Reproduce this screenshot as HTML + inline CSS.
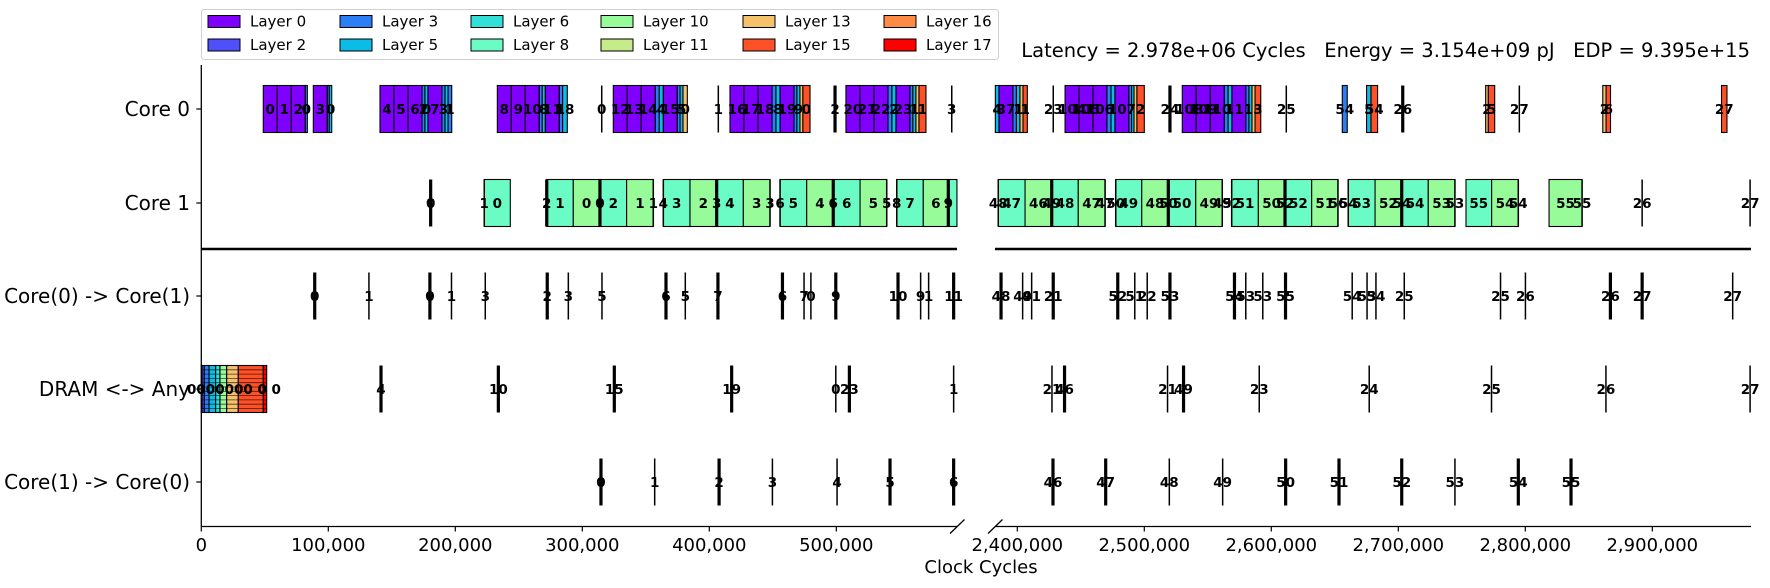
<!DOCTYPE html>
<html><head><meta charset="utf-8"><style>
html,body{margin:0;padding:0;background:#fff;}
svg{display:block;font-family:"DejaVu Sans","Liberation Sans",sans-serif;}
</style></head><body>
<svg id="chart" width="1770" height="588" viewBox="0 0 1770 588"></svg>
<script>
// ---- data (cycles in thousands) ----
const rowNames = ["Core 0","Core 1","Core(0) -> Core(1)","DRAM <-> Any","Core(1) -> Core(0)"];
const layerIds = [0,2,3,5,6,8,10,11,13,15,16,17];
const layerColors = {0:"#8000ff",2:"#4f4ffc",3:"#2c7ef7",5:"#0bbde6",6:"#33e0d8",8:"#6bfcc5",10:"#98fb9a",11:"#c5eb8a",13:"#f5c26b",15:"#ff5127",16:"#ff8a46",17:"#ff0000"};
const leftTicks = [0,100,200,300,400,500];
const rightTicks = [2400,2500,2600,2700,2800,2900];
const core0Tasks = [
[48.8,59.8,0,'0'],[59.8,70.9,0,'1'],[70.9,81.9,0,'2'],[81.9,83.5,3,'0'],
[88.2,99.2,0,'3'],[99.2,100.8,3,''],[100.8,102.7,5,'0'],
[140.7,151.7,0,'4'],[151.7,162.8,0,'5'],[162.8,173.8,0,'6'],[173.8,176.1,3,'2'],[176.1,178.5,5,'0'],[178.5,189.5,0,'7'],[189.5,191.9,3,'3'],[191.9,194.3,5,''],[194.3,197.2,3,'1'],
[233.1,244.1,0,'8'],[244.1,255.1,0,'9'],[255.1,266.1,0,'10'],[266.1,268.5,3,''],[268.5,270.9,5,'8'],[270.9,281.9,0,'11'],[281.9,284.5,3,''],[284.5,288.2,5,'18'],
[324.4,335.4,0,'12'],[335.4,346.4,0,'13'],[346.4,357.5,0,'14'],[357.5,360.6,3,''],[360.6,363.8,5,'4'],[363.8,374.8,0,'15'],[374.8,377,3,''],[377,379.3,5,'5'],[379.3,382.7,13,'0'],
[416.3,427.3,0,'16'],[427.3,438.4,0,'17'],[438.4,449.4,0,'18'],[449.4,452.5,3,''],[452.5,455.7,5,'8'],[455.7,466.7,0,'19'],[466.7,469,3,''],[469,471.4,5,'9'],[471.4,473.7,13,''],[473.7,479.3,15,'0'],
[507.6,518.6,0,'20'],[518.6,529.7,0,'21'],[529.7,540.7,0,'22'],[540.7,543.8,3,''],[543.8,547,5,'2'],[547,558,0,'23'],[558,560.3,3,''],[560.3,562.7,5,'1'],[562.7,565.1,13,''],[565.1,570.6,15,'1'],
[2382.7,2385.6,5,'4'],[2385.6,2396.6,0,'37'],[2396.6,2399.3,3,''],[2399.3,2402.1,5,'1'],[2402.1,2404.5,13,''],[2404.5,2407.9,15,'1'],
[2437.6,2448.6,0,'104'],[2448.6,2459.6,0,'105'],[2459.6,2470.6,0,'106'],[2470.6,2473.8,3,''],[2473.8,2476.9,5,''],[2476.9,2487.9,0,'107'],[2487.9,2490,3,''],[2490,2491.9,5,''],[2491.9,2494.2,13,''],[2494.2,2500,15,'2'],
[2529.9,2540.9,0,'108'],[2540.9,2552,0,'109'],[2552,2563,0,'110'],[2563,2566,3,''],[2566,2569,5,''],[2569,2580,0,'111'],[2580,2582.4,3,''],[2582.4,2584.8,5,''],[2584.8,2587.2,13,''],[2587.2,2591.7,15,'3'],
[2655.9,2659.8,3,'54'],[2675,2678.5,5,'5'],[2678.5,2683.7,15,'54'],[2768.8,2770.9,13,'2'],[2770.9,2775.9,15,'5'],[2861,2863.6,13,'2'],[2863.6,2867.1,15,'6'],[2954.5,2958.8,15,'27']
];
const core0Events = [[315.3,'0',0],[407.1,'1',0],[499,'2',1],[590.9,'3',0],[2428.3,'23',0],[2520.2,'24',1],[2611.8,'25',0],[2703.5,'26',1],[2795.3,'27',0]];
const core1Tasks = [
[222.8,243.3,8,'0'],[272,292.9,8,'1'],[292.9,313.9,10,'0'],[313.9,334.9,8,'2'],[334.9,355.9,10,'1'],[363.8,384.8,8,'3'],[384.8,405.8,10,'2'],[405.8,426.8,8,'4'],[426.8,447.8,10,'3'],[455.7,476.7,8,'5'],[476.7,497.6,10,'4'],[497.6,518.7,8,'6'],[518.7,539.7,10,'5'],[547.6,568.5,8,'7'],[568.5,588.2,10,'6'],[588.2,595,8,''],
[2385,2406.1,8,'47'],[2406.1,2427.1,10,'46'],[2427.1,2448,8,'48'],[2448,2469.1,10,'47'],[2477.5,2498,8,'49'],[2498,2518.9,10,'48'],[2518.9,2540.5,8,'50'],[2540.5,2561.4,10,'49'],[2568.8,2589.8,8,'51'],[2589.8,2610.8,10,'50'],[2610.8,2631.8,8,'52'],[2631.8,2652.5,10,'51'],[2660.6,2681.7,8,'53'],[2681.7,2702.7,10,'52'],[2702.7,2723.6,8,'54'],[2723.6,2744.6,10,'53'],[2753.3,2773.5,8,'55'],[2773.5,2794.5,10,'54'],[2818.7,2844.7,10,'55']
];
const core1Events = [[180.6,'0',1],[222.8,'1',0],[272,'2',1],[313.9,'0',1],[355.9,'1',0],[363.8,'4',0],[405.8,'3',1],[447.8,'3',0],[455.7,'6',0],[497.6,'6',1],[539.7,'5',0],[547.6,'8',0],[588.2,'9',1],[2385,'48',0],[2427.1,'49',1],[2469.1,'47',0],[2477.5,'50',0],[2518.9,'50',1],[2561.4,'49',0],[2568.8,'52',0],[2610.8,'52',1],[2652.5,'56',0],[2660.6,'54',0],[2702.7,'54',1],[2744.6,'53',0],[2794.5,'54',0],[2844.7,'55',0],[2892,'26',0],[2977,'27',0]];
const c01Events = [[89.3,'0',1],[132,'1',0],[180,'0',1],[197,'1',0],[223.6,'3',0],[272.4,'2',1],[289,'3',0],[315.5,'5',0],[365.9,'6',1],[381.1,'5',0],[406.8,'7',1],[457.6,'6',1],[474.6,'7',0],[480,'0',0],[499.6,'9',1],[548.6,'10',1],[566.4,'9',0],[572.7,'1',0],[592.4,'11',1],
[2387.2,'48',1],[2404.2,'49',0],[2411.3,'41',0],[2428.3,'21',1],[2479.1,'52',1],[2492.5,'51',0],[2502.3,'22',0],[2520.2,'53',1],[2571,'54',1],[2579.9,'53',0],[2593.3,'53',0],[2611.2,'55',1],[2663.7,'54',0],[2675.4,'53',0],[2682.4,'54',0],[2704.7,'25',0],[2780.5,'25',0],[2800.1,'26',0],[2867,'26',1],[2892,'27',1],[2963.3,'27',0]];
const dramTasks = [[0,0.6,0,''],[0.6,2.4,2,''],[2.4,6.1,3,''],[6.1,11.3,5,''],[11.3,14.7,6,''],[14.7,20,10,''],[20,29.1,13,''],[29.1,48.8,15,''],[48.8,51.5,17,'']];
const dramEvents = [[141.5,'4',1],[233.9,'10',1],[325.2,'15',1],[417.6,'19',1],[499.6,'0',0],[510.3,'23',1],[592.4,'1',0],[2427.3,'21',0],[2437.2,'46',1],[2518.3,'21',0],[2530.9,'49',1],[2590.5,'23',0],[2677.1,'24',0],[2773.4,'25',0],[2863.5,'26',0],[2977,'27',0]];
const c10Events = [[314.7,'0',1],[357,'1',0],[407.7,'2',1],[449.7,'3',0],[500.6,'4',0],[542.3,'5',1],[592.4,'6',1],[2428.1,'46',1],[2469.6,'47',1],[2519.7,'48',0],[2561.7,'49',0],[2611.3,'50',1],[2653.3,'51',1],[2702.7,'52',1],[2744.6,'53',0],[2794.5,'54',1],[2836,'55',1]];

// ---- scales ----
const L0=201.3, LEND=957, R0=995, REND=1751, PX=1.27, RSTART=2400, RPX=1017.3;
function xs(c){ return c<=600 ? L0 + c*PX : Math.min(REND, RPX + (c-RSTART)*PX); }
const rowY = [109,203,296,389,482];
const HH = 23.5;
const NS="http://www.w3.org/2000/svg";
const svg=document.getElementById('chart');
function el(tag,attrs,parent){const e=document.createElementNS(NS,tag);for(const k in attrs)e.setAttribute(k,attrs[k]);(parent||svg).appendChild(e);return e;}
function txt(s,attrs,parent){const t=el('text',attrs,parent);t.textContent=s;return t;}

// legend
const lg=el('g',{});


el('rect',{x:201.5,y:9.5,width:797,height:50,rx:3,fill:'#fff',stroke:'#d0d0d0','stroke-width':1},lg);
const colX=[250,382,513,643,785,926];
layerIds.forEach((id,i)=>{
  const c=Math.floor(i/2), r=i%2;
  const cy = r===0?21.5:45;
  const g=el('g',{},lg);
  
  
  el('rect',{x:colX[c]-42,y:cy-6,width:32,height:12,fill:layerColors[id],stroke:'#000','stroke-width':1},g);
  txt('Layer '+id,{x:colX[c],y:cy+5,'font-size':15,fill:'#000'},g);
});

// title
const tt=txt('Latency = 2.978e+06 Cycles   Energy = 3.154e+09 pJ   EDP = 9.395e+15',{x:1750,y:57,'text-anchor':'end','font-size':19.5,fill:'#000',style:'white-space:pre'});



// axes
const ax=el('g',{stroke:'#000','stroke-width':1.3,fill:'none'});


el('line',{x1:L0,y1:65,x2:L0,y2:526.5},ax);
el('line',{x1:L0,y1:526.5,x2:LEND,y2:526.5},ax);
el('line',{x1:R0,y1:526.5,x2:REND,y2:526.5},ax);
el('line',{x1:950,y1:533.5,x2:964.5,y2:519.5},ax);
el('line',{x1:988,y1:533.5,x2:1002.5,y2:519.5},ax);
// separator
const sep=el('g',{stroke:'#000','stroke-width':2.6});


el('line',{x1:L0,y1:249,x2:LEND,y2:249},sep);
el('line',{x1:R0,y1:249,x2:REND,y2:249},sep);

// y ticks & labels
rowNames.forEach((n,i)=>{
  el('line',{x1:L0-5,y1:rowY[i],x2:L0,y2:rowY[i],stroke:'#000','stroke-width':1.2});
  const t=txt(n,{x:190,y:rowY[i]+7,'text-anchor':'end','font-size':20,fill:'#000'});
  
  
});
// x ticks
function fmt(k){return (k*1000).toLocaleString('en-US');}
leftTicks.concat(rightTicks).forEach(k=>{
  const x=xs(k);
  el('line',{x1:x,y1:526.5,x2:x,y2:531.5,stroke:'#000','stroke-width':1.2});
  const t=txt(fmt(k),{x:x,y:551,'text-anchor':'middle','font-size':18,fill:'#000'});
  
  
});
const xt=txt('Clock Cycles',{x:981,y:573,'text-anchor':'middle','font-size':18,fill:'#000'});



const marks=el('g',{});
const labels=el('g',{'font-size':13.5,'font-weight':'bold','text-anchor':'middle',fill:'#000'});
function drawTasks(tasks,row,hatch){
  const cy=rowY[row];
  tasks.forEach(t=>{
    const x1=xs(t[0]), x2=xs(t[1]);
    const r=el('rect',{x:x1,y:cy-HH,width:Math.max(0.8,x2-x1),height:2*HH,fill:layerColors[t[2]],stroke:'#000','stroke-width':1.1},marks);
    
    
    if(t[3]!==''){txt(t[3],{x:(x1+x2)/2,y:cy+5},labels);}
  });
  if(hatch){
    const x1=xs(tasks[0][0]), x2=xs(tasks[tasks.length-1][1]);
    for(let y=cy-HH+4.3;y<cy+HH;y+=4.3){el('line',{x1:x1,y1:y,x2:x2,y2:y,stroke:'#000','stroke-width':0.8,opacity:0.7},marks);}
    txt('0000000 0 0',{x:(x1+x2)/2,y:cy+5},labels);
  }
}
function drawEvents(evs,row){
  const cy=rowY[row];
  evs.forEach(e=>{
    const x=xs(e[0]);
    const l=el('line',{x1:x,y1:cy-HH,x2:x,y2:cy+HH,stroke:'#000','stroke-width':e[2]?3.2:1.5},marks);
    
    
    txt(e[1],{x:x,y:cy+5},labels);
  });
}
drawTasks(core0Tasks,0,false);
drawEvents(core0Events,0);
drawTasks(core1Tasks,1,false);
drawEvents(core1Events,1);
drawEvents(c01Events,2);
drawTasks(dramTasks,3,true);
drawEvents(dramEvents,3);
drawEvents(c10Events,4);
svg.appendChild(labels);
</script>
</body></html>
